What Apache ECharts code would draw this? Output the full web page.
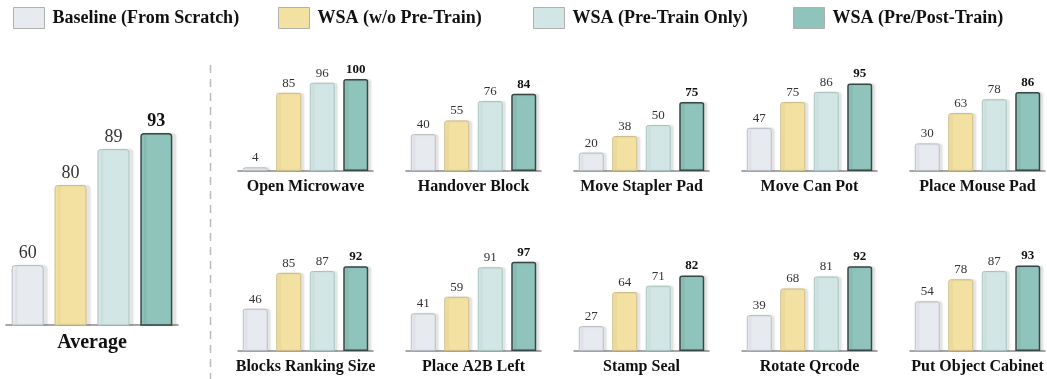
<!DOCTYPE html>
<html><head><meta charset="utf-8">
<script src="https://cdn.jsdelivr.net/npm/echarts@6/dist/echarts.min.js"></script>
<style>html,body{margin:0;padding:0;background:#fff}#c{width:1047px;height:379px}</style>
</head><body><div id="c"></div>
<script>
const methods = ['Baseline (From Scratch)', 'WSA (w/o Pre-Train)', 'WSA (Pre-Train Only)', 'WSA (Pre/Post-Train)'];
const tasks = ['Open Microwave', 'Handover Block', 'Move Stapler Pad', 'Move Can Pot', 'Place Mouse Pad',
               'Blocks Ranking Size', 'Place A2B Left', 'Stamp Seal', 'Rotate Qrcode', 'Put Object Cabinet'];
const baseline   = [4, 40, 20, 47, 30, 46, 41, 27, 39, 54];
const woPre      = [85, 55, 38, 75, 63, 85, 59, 64, 68, 78];
const preOnly    = [96, 76, 50, 86, 78, 87, 91, 71, 81, 87];
const prePost    = [100, 84, 75, 95, 86, 92, 97, 82, 92, 93];
const averageLabel = 'Average';
const average    = [60, 80, 89, 93];

const seriesValues = [baseline, woPre, preOnly, prePost];
const fills   = ['#e7ebef', '#f2e1a1', '#d2e7e5', '#8ec4bb'];
const borders = ['#b7bcc2', '#cdbd88', '#a8c3c1', '#394645'];
const FONT = '"Liberation Serif", "Times New Roman", serif';

const grids = [], xAxes = [], yAxes = [], series = [];

// Average panel
grids.push({left: 6, width: 172, top: 105, height: 220});
xAxes.push({type: 'category', gridIndex: 0, data: [averageLabel],
  axisTick: {show: false}, axisLine: {lineStyle: {color: '#8a8a8a', width: 1.5}},
  axisLabel: {fontFamily: FONT, fontWeight: 'bold', fontSize: 20, color: '#111', margin: 8}});
yAxes.push({type: 'value', gridIndex: 0, min: 45, max: 100, show: false});
for (let m = 0; m < 4; m++) {
  series.push({type: 'bar', name: methods[m], xAxisIndex: 0, yAxisIndex: 0,
    data: [average[m]], barWidth: 32, barGap: '34%',
    itemStyle: {color: fills[m], borderColor: borders[m], borderWidth: m === 3 ? 1.5 : 1,
      borderRadius: [3, 3, 0, 0], shadowColor: 'rgba(0,0,0,0.10)', shadowOffsetX: 4, shadowBlur: 2},
    label: {show: true, position: 'top', distance: 3, fontFamily: FONT, fontSize: 18,
      fontWeight: m === 3 ? 'bold' : 'normal', color: m === 3 ? '#111' : '#333'}});
}

// Task panels
for (let t = 0; t < tasks.length; t++) {
  const row = Math.floor(t / 5), col = t % 5;
  const gi = t + 1;
  const base = row === 0 ? 171 : 351;
  grids.push({left: 238 + 168 * col, width: 135, top: base - 92, height: 92});
  xAxes.push({type: 'category', gridIndex: gi, data: [tasks[t]],
    axisTick: {show: false}, axisLine: {lineStyle: {color: '#8a8a8a', width: 1.5}},
    axisLabel: {fontFamily: FONT, fontWeight: 'bold', fontSize: 16, color: '#111', margin: 8}});
  yAxes.push({type: 'value', gridIndex: gi, min: 0, max: 100, show: false});
  for (let m = 0; m < 4; m++) {
    series.push({type: 'bar', name: methods[m], xAxisIndex: gi, yAxisIndex: gi,
      data: [seriesValues[m][t]], barWidth: 25, barGap: '34%',
      itemStyle: {color: fills[m], borderColor: borders[m], borderWidth: m === 3 ? 1.5 : 1,
        borderRadius: [2, 2, 0, 0], shadowColor: 'rgba(0,0,0,0.10)', shadowOffsetX: 3, shadowBlur: 2},
      label: {show: true, position: 'top', distance: 3, fontFamily: FONT, fontSize: 13,
        fontWeight: m === 3 ? 'bold' : 'normal', color: m === 3 ? '#111' : '#333'}});
  }
}

const legendLefts = [13, 278, 533, 793];
const legends = methods.map((name, i) => ({
  data: [name], left: legendLefts[i], top: 7, padding: 0, itemWidth: 31, itemHeight: 21,
  icon: 'rect', selectedMode: false,
  itemStyle: {borderColor: '#b0b0b0', borderWidth: 1, shadowBlur: 0, shadowOffsetX: 0},
  textStyle: {fontFamily: FONT, fontWeight: 'bold', fontSize: 18, color: '#111', padding: [0, 0, 0, 3]}
}));

const chart = echarts.init(document.getElementById('c'));
chart.setOption({
  animation: false,
  legend: legends,
  grid: grids, xAxis: xAxes, yAxis: yAxes, series: series,
  graphic: [{type: 'line', shape: {x1: 210.5, y1: 65, x2: 210.5, y2: 379},
    style: {stroke: '#bdbdbd', lineWidth: 1.5, lineDash: [8, 6]}}]
});
</script></body></html>
